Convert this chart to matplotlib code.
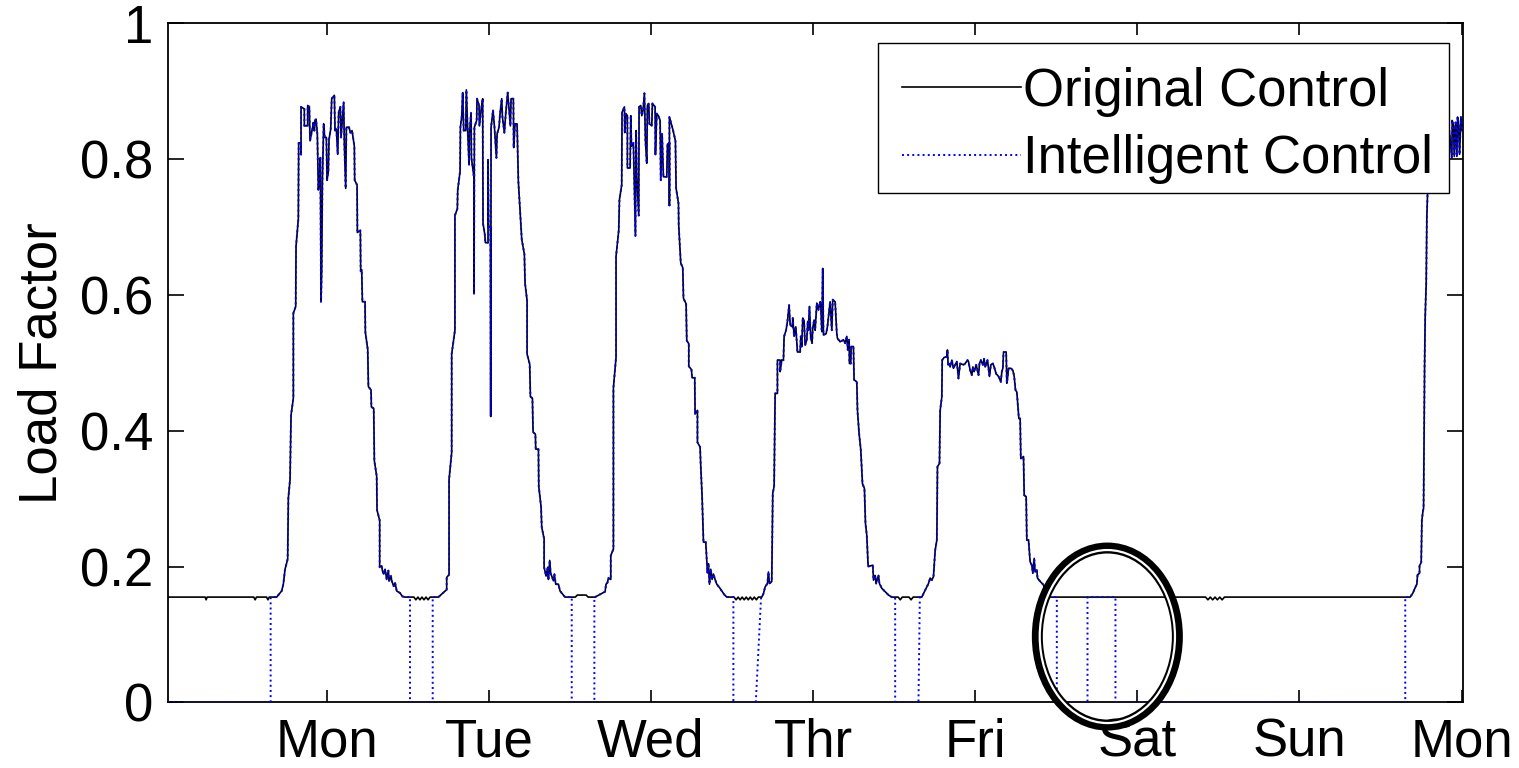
import numpy as np
import matplotlib
matplotlib.use("Agg")
import matplotlib.pyplot as plt
from matplotlib.patches import Ellipse, Rectangle

plt.rcParams['font.family'] = ['Liberation Sans', 'DejaVu Sans']

# ---------------- data (time in hours, load factor) ----------------
day_ticks = [24, 48, 72, 96, 120, 144, 168, 192]
day_labels = ['Mon', 'Tue', 'Wed', 'Thr', 'Fri', 'Sat', 'Sun', 'Mon']
y_ticks = [0, 0.2, 0.4, 0.6, 0.8, 1.0]
y_labels = ['0', '0.2', '0.4', '0.6', '0.8', '1']

sun_night_h = [0.46, 6.0, 6.15, 6.3, 13.2, 13.4, 13.6, 15.1, 15.3, 15.5]
sun_night_v = [0.155, 0.155, 0.151, 0.155, 0.155, 0.151, 0.155, 0.155, 0.151, 0.155]

mon_h = [16.59, 17.33, 17.58, 17.83, 18.22, 18.32, 18.57, 18.72, 19.06, 19.06,
         19.41, 19.46, 19.80, 19.85, 20.20, 20.20, 20.20, 20.69, 20.69, 21.18,
         21.18, 21.43, 21.53, 21.92, 22.02, 22.17, 22.27, 22.42, 22.61, 22.76,
         22.91, 23.06, 23.16, 23.26, 23.36, 23.55, 23.70, 23.95, 24.05, 24.24,
         24.34, 24.59, 24.74, 25.13, 25.23, 25.43, 25.63, 25.77, 26.02, 26.12,
         26.32, 26.51, 26.61, 26.81, 26.91, 27.30, 27.50, 27.75, 28.09, 28.14,
         28.49, 28.54, 28.98, 29.03, 29.18, 29.28, 29.67, 29.72, 30.07, 30.17,
         30.56, 30.61, 30.96, 31.05, 31.40, 31.45, 31.84, 31.84, 32.14, 32.24,
         32.44, 32.64, 32.88, 33.13, 33.23, 33.52, 33.62, 33.92, 34.12, 34.36,
         34.86, 35.20, 35.60]
mon_v = [0.155, 0.164, 0.174, 0.196, 0.211, 0.301, 0.328, 0.423, 0.448, 0.573,
         0.583, 0.672, 0.712, 0.824, 0.824, 0.807, 0.877, 0.874, 0.849, 0.849,
         0.879, 0.877, 0.827, 0.847, 0.854, 0.842, 0.857, 0.859, 0.837, 0.755,
         0.767, 0.802, 0.590, 0.637, 0.767, 0.852, 0.832, 0.832, 0.769, 0.782,
         0.829, 0.844, 0.889, 0.894, 0.842, 0.844, 0.807, 0.869, 0.877, 0.832,
         0.859, 0.884, 0.822, 0.757, 0.847, 0.847, 0.839, 0.842, 0.819, 0.769,
         0.762, 0.692, 0.695, 0.635, 0.637, 0.590, 0.590, 0.545, 0.520, 0.465,
         0.460, 0.435, 0.433, 0.356, 0.333, 0.283, 0.268, 0.199, 0.201, 0.194,
         0.189, 0.196, 0.181, 0.194, 0.179, 0.186, 0.179, 0.171, 0.176, 0.164,
         0.161, 0.156, 0.155]

mon_night_h = [36.9, 37.2, 37.5, 37.8, 38.1, 38.4, 38.7, 39.0, 39.3]
mon_night_v = [0.155, 0.151, 0.155, 0.151, 0.155, 0.151, 0.155, 0.151, 0.155]

tue_h = [40.53, 41.76, 41.76, 42.11, 42.11, 42.50, 42.50, 42.98, 42.98, 43.34,
         43.39, 43.74, 43.79, 43.98, 44.13, 44.28, 44.58, 44.67, 44.87, 45.07,
         45.12, 45.37, 45.42, 45.81, 45.81, 45.86, 46.20, 46.25, 46.55, 46.60,
         46.85, 47.09, 47.14, 47.39, 47.49, 47.88, 47.88, 47.98, 48.23, 48.28,
         48.33, 48.62, 48.82, 49.12, 49.22, 49.51, 49.66, 49.91, 50.01, 50.30,
         50.50, 50.79, 51.19, 51.29, 51.63, 51.68, 51.88, 52.18, 52.37, 52.87,
         53.26, 53.36, 53.66, 53.66, 54.05, 54.15, 54.45, 54.55, 54.89, 54.94,
         55.34, 55.39, 55.73, 55.83, 56.18, 56.18, 56.47, 56.72, 56.82, 57.01,
         57.16, 57.31, 57.56, 57.70, 57.90, 58.30, 58.54, 58.94, 59.28]
tue_v = [0.155, 0.166, 0.184, 0.188, 0.328, 0.368, 0.513, 0.548, 0.717, 0.727,
         0.754, 0.782, 0.847, 0.862, 0.898, 0.842, 0.842, 0.902, 0.842, 0.792,
         0.837, 0.868, 0.802, 0.772, 0.602, 0.847, 0.857, 0.889, 0.879, 0.849,
         0.872, 0.889, 0.705, 0.690, 0.677, 0.677, 0.799, 0.700, 0.700, 0.421,
         0.847, 0.872, 0.849, 0.802, 0.837, 0.847, 0.867, 0.889, 0.862, 0.839,
         0.867, 0.898, 0.849, 0.889, 0.889, 0.817, 0.852, 0.852, 0.767, 0.682,
         0.660, 0.617, 0.592, 0.513, 0.498, 0.450, 0.448, 0.398, 0.395, 0.373,
         0.373, 0.318, 0.288, 0.258, 0.241, 0.199, 0.186, 0.199, 0.181, 0.209,
         0.189, 0.186, 0.179, 0.189, 0.174, 0.174, 0.164, 0.159, 0.155]

tue_night_h = [60.8, 61.1, 62.4, 62.7]
tue_night_v = [0.155, 0.158, 0.158, 0.155]

wed_h = [63.72, 65.21, 65.35, 65.55, 65.70, 66.05, 66.05, 66.44, 66.44, 66.83,
         66.83, 67.23, 67.33, 67.67, 67.72, 68.07, 68.12, 68.27, 68.51, 68.51,
         68.91, 69.01, 69.11, 69.40, 69.70, 69.80, 69.90, 70.19, 70.24, 70.49,
         70.64, 70.83, 71.03, 71.18, 71.38, 71.47, 71.67, 71.77, 72.12, 72.21,
         72.61, 72.66, 72.86, 73.10, 73.35, 73.45, 73.65, 73.84, 74.34, 74.44,
         74.73, 74.73, 74.73, 75.23, 75.62, 75.72, 76.07, 76.11, 76.41, 76.71,
         76.81, 77.20, 77.30, 77.60, 77.60, 77.99, 78.09, 78.48, 78.53, 78.88,
         78.88, 79.27, 79.37, 79.57, 79.77, 80.11, 80.36, 80.51, 80.66, 80.85,
         81.05, 81.25, 81.49, 81.74, 82.14, 82.48, 82.83, 83.22]
wed_v = [0.155, 0.163, 0.174, 0.176, 0.183, 0.181, 0.216, 0.226, 0.463, 0.508,
         0.657, 0.695, 0.740, 0.762, 0.869, 0.877, 0.839, 0.867, 0.864, 0.787,
         0.787, 0.864, 0.819, 0.824, 0.687, 0.842, 0.777, 0.717, 0.877, 0.879,
         0.864, 0.872, 0.897, 0.827, 0.794, 0.879, 0.882, 0.852, 0.849, 0.882,
         0.877, 0.807, 0.867, 0.864, 0.857, 0.769, 0.837, 0.774, 0.774, 0.822,
         0.824, 0.732, 0.862, 0.844, 0.827, 0.757, 0.735, 0.702, 0.647, 0.640,
         0.595, 0.587, 0.533, 0.528, 0.495, 0.490, 0.478, 0.478, 0.425, 0.430,
         0.383, 0.376, 0.348, 0.303, 0.236, 0.236, 0.191, 0.204, 0.174, 0.196,
         0.181, 0.189, 0.181, 0.174, 0.169, 0.164, 0.159, 0.155]

wed_night_h = [84.3, 84.6, 84.9, 85.2, 85.5, 85.8, 86.1, 86.4, 86.7, 87.0, 87.3, 87.6, 87.9]
wed_night_v = [0.155, 0.151, 0.155, 0.151, 0.155, 0.151, 0.155, 0.151, 0.155, 0.151, 0.155, 0.151, 0.155]

thu_h = [88.40, 88.65, 88.90, 89.24, 89.39, 89.54, 89.88, 90.03, 90.23, 90.38,
         90.72, 90.72, 91.12, 91.12, 91.36, 91.61, 91.71, 92.00, 92.20, 92.45,
         92.60, 92.94, 92.99, 93.19, 93.44, 93.68, 94.08, 94.18, 94.32, 94.47,
         94.67, 94.82, 95.07, 95.21, 95.31, 95.46, 95.66, 95.85, 95.95, 96.15,
         96.30, 96.55, 96.79, 97.04, 97.14, 97.29, 97.43, 97.53, 97.93, 98.12,
         98.52, 98.77, 98.91, 99.26, 99.51, 99.61, 100.00, 100.50, 100.74, 100.99,
         101.14, 101.33, 101.38, 101.58, 101.63, 101.97, 102.07, 102.47, 102.57, 102.81,
         103.06, 103.31, 103.60, 103.75, 103.95, 104.15, 104.84, 104.94, 105.18, 105.33,
         105.68, 105.82, 106.17, 106.66, 107.16, 107.65]
thu_v = [0.155, 0.160, 0.170, 0.175, 0.192, 0.175, 0.178, 0.308, 0.318, 0.455,
         0.455, 0.504, 0.504, 0.487, 0.504, 0.504, 0.539, 0.548, 0.561, 0.585,
         0.556, 0.553, 0.566, 0.539, 0.553, 0.516, 0.516, 0.539, 0.524, 0.566,
         0.561, 0.526, 0.534, 0.561, 0.548, 0.583, 0.536, 0.529, 0.551, 0.563,
         0.548, 0.588, 0.578, 0.590, 0.583, 0.546, 0.639, 0.541, 0.543, 0.553,
         0.590, 0.548, 0.593, 0.590, 0.543, 0.536, 0.531, 0.534, 0.529, 0.539,
         0.519, 0.534, 0.499, 0.499, 0.524, 0.524, 0.475, 0.472, 0.430, 0.396,
         0.372, 0.322, 0.315, 0.264, 0.246, 0.200, 0.202, 0.180, 0.187, 0.175,
         0.187, 0.175, 0.168, 0.163, 0.158, 0.155]

thu_night_h = [108.6, 108.9, 109.2, 110.2, 110.5, 110.8]
thu_night_v = [0.155, 0.151, 0.155, 0.155, 0.151, 0.155]

fri_h = [112.09, 112.34, 112.83, 113.08, 113.33, 113.57, 113.82, 114.07, 114.32, 114.41,
         114.71, 114.81, 115.06, 115.11, 115.40, 115.80, 115.89, 115.99, 116.14, 116.29,
         116.54, 116.78, 117.03, 117.28, 117.52, 117.77, 118.26, 118.51, 118.86, 119.00,
         119.25, 119.50, 119.65, 119.84, 120.14, 120.49, 120.63, 120.83, 121.13, 121.32,
         121.47, 121.82, 122.11, 122.31, 122.61, 122.80, 123.10, 123.45, 123.79, 123.94,
         124.09, 124.19, 124.58, 124.68, 124.78, 124.93, 125.27, 125.57, 125.77, 125.96,
         126.16, 126.46, 126.65, 126.75, 127.15, 127.25, 127.54, 127.64, 127.89, 128.13,
         128.38, 128.53, 128.73, 128.87, 129.12, 129.22, 129.62, 130.11, 130.35, 131.00]
fri_v = [0.155, 0.160, 0.170, 0.175, 0.183, 0.180, 0.185, 0.224, 0.239, 0.347,
         0.352, 0.430, 0.450, 0.504, 0.508, 0.509, 0.519, 0.497, 0.499, 0.494,
         0.504, 0.492, 0.497, 0.502, 0.477, 0.499, 0.497, 0.499, 0.504, 0.502,
         0.489, 0.482, 0.494, 0.487, 0.497, 0.482, 0.499, 0.504, 0.497, 0.506,
         0.494, 0.504, 0.480, 0.497, 0.499, 0.494, 0.484, 0.480, 0.472, 0.487,
         0.492, 0.516, 0.516, 0.470, 0.477, 0.492, 0.492, 0.489, 0.480, 0.460,
         0.457, 0.418, 0.418, 0.359, 0.362, 0.305, 0.303, 0.239, 0.239, 0.207,
         0.202, 0.190, 0.212, 0.192, 0.195, 0.183, 0.178, 0.173, 0.163, 0.155]

weekend_h = [154.1, 154.45, 154.8, 155.15, 155.5, 155.85, 156.2, 156.55, 156.9]
weekend_v = [0.155, 0.151, 0.155, 0.151, 0.155, 0.151, 0.155, 0.151, 0.155]

next_mon_h = [184.39, 184.79, 185.13, 185.38, 185.48, 185.77, 185.77, 186.02, 186.12, 186.27,
              186.37, 186.52, 186.61, 186.76, 186.86, 186.96, 187.10, 187.40, 187.80, 188.30,
              188.90, 189.50, 190.10, 190.56, 190.61, 190.81, 190.91, 191.11, 191.30, 191.40,
              191.55, 191.70, 191.90, 192.09, 192.29]
next_mon_v = [0.155, 0.161, 0.169, 0.174, 0.188, 0.190, 0.201, 0.206, 0.268, 0.281,
              0.286, 0.493, 0.568, 0.617, 0.717, 0.749, 0.800, 0.830, 0.850, 0.840,
              0.860, 0.830, 0.850, 0.802, 0.857, 0.849, 0.804, 0.854, 0.804, 0.862,
              0.852, 0.807, 0.862, 0.842, 0.852]

# Intelligent control switching schedule (hours)
ic_on_leave_zero = [15.70, 39.69, 63.62, 87.52, 111.60, 136.62, 183.66]
ic_on_reach = [15.70, 39.69, 63.62, 88.30, 111.80, 136.62, 183.66]
ic_off = [36.33, 60.27, 84.20, 108.15, 132.08, 140.76, 192.29]

# ---------------- build series ----------------
orig_h = np.array(sun_night_h + mon_h + mon_night_h + tue_h + tue_night_h + wed_h +
                  wed_night_h + thu_h + thu_night_h + fri_h + weekend_h + next_mon_h)
orig_v = np.array(sun_night_v + mon_v + mon_night_v + tue_v + tue_night_v + wed_v +
                  wed_night_v + thu_v + thu_night_v + fri_v + weekend_v + next_mon_v)
t_end = orig_h[-1]

ic_x = [orig_h[0]]
ic_y = [0.0]
for t0, t1, t2 in zip(ic_on_leave_zero, ic_on_reach, ic_off):
    ic_x.append(t0); ic_y.append(0.0)
    ic_x.append(t1); ic_y.append(float(np.interp(t1, orig_h, orig_v)))
    m = (orig_h > t1) & (orig_h < t2)
    ic_x.extend(orig_h[m].tolist()); ic_y.extend(orig_v[m].tolist())
    ic_x.append(t2); ic_y.append(float(np.interp(t2, orig_h, orig_v)))
    if t2 < t_end:
        ic_x.append(t2); ic_y.append(0.0)

# ---------------- plot ----------------
fig = plt.figure(figsize=(15.19, 7.68), dpi=100)
ax = fig.add_axes([0.1104, 0.0855, 0.8527, 0.8841])

ax.plot(orig_h, orig_v, color='black', lw=1.2, label='Original Control', zorder=2)
ax.plot(ic_x, ic_y, color='#0000ff', lw=1.4, linestyle=':', label='Intelligent Control', zorder=3)

ax.set_xlim(0.46, 192.2)
ax.set_ylim(0, 1)
ax.set_xticks(day_ticks)
ax.set_xticklabels(day_labels)
ax.set_yticks(y_ticks)
ax.set_yticklabels(y_labels)
ax.tick_params(direction='in', top=True, right=True, width=1.2, labelsize=38)
ax.tick_params(axis='x', length=8.6, pad=11)
ax.tick_params(axis='y', length=11.5, pad=10.5)
for s in ax.spines.values():
    s.set_linewidth(1.3)
ax.set_ylabel('Load Factor', fontsize=38, labelpad=9)

# legend: frame drawn as a box, entries placed inside it
ax.add_patch(Rectangle((0.5484, 0.7505), 0.4408, 0.2209, transform=ax.transAxes,
                       facecolor='white', edgecolor='black', lw=1.0, zorder=4.9))
leg = ax.legend(loc='upper left', bbox_to_anchor=(0.5484, 0.9714),
                borderaxespad=0.0, fontsize=38, handlelength=2.25, handletextpad=0.05,
                borderpad=0.45, labelspacing=0.34, frameon=False)
leg.set_zorder(5)

# highlighted region (double ring)
ring_center = (139.56, 0.0969)
ax.add_patch(Ellipse(ring_center, 20.73, 0.2607, fill=False, edgecolor='black',
                     lw=7.9, clip_on=False, zorder=6))
ax.add_patch(Ellipse(ring_center, 20.02, 0.2548, fill=False, edgecolor='white',
                     lw=1.6, clip_on=False, zorder=7))

fig.savefig('out.png', dpi=100, facecolor='white')
